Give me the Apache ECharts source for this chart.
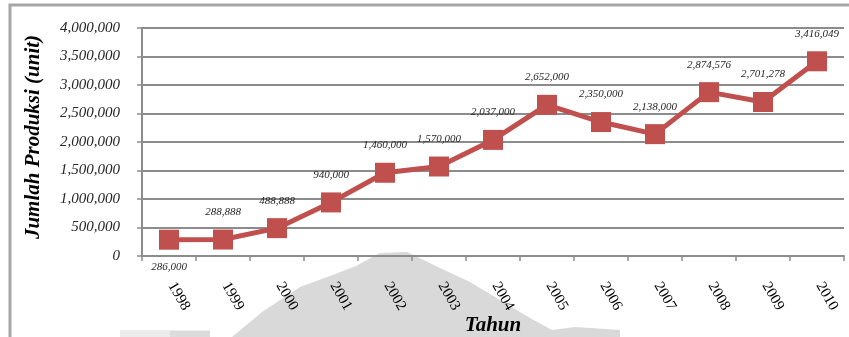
<!DOCTYPE html>
<html>
<head>
<meta charset="utf-8">
<script src="https://cdn.jsdelivr.net/npm/echarts@6/dist/echarts.min.js"></script>
<style>
  html, body { margin: 0; padding: 0; background: #fff; }
  #chart { width: 849px; height: 337px; }
</style>
</head>
<body>
<div id="chart"></div>
<script>
// Production per year (units)
const years = ['1998', '1999', '2000', '2001', '2002', '2003', '2004',
               '2005', '2006', '2007', '2008', '2009', '2010'];
const production = [286000, 288888, 488888, 940000, 1460000, 1570000, 2037000,
                    2652000, 2350000, 2138000, 2874576, 2701278, 3416049];
const yTicks = [0, 500000, 1000000, 1500000, 2000000, 2500000, 3000000, 3500000, 4000000];

const serif = '"Liberation Serif", "Times New Roman", "DejaVu Serif", serif';
const red = '#C0504D';
const grey = '#8c8c8c';

function fmt(v) {
  return v === 0 ? '0' : v.toLocaleString('en-US');
}

const chart = echarts.init(document.getElementById('chart'), null, { renderer: 'canvas' });

chart.setOption({
  animation: false,
  backgroundColor: '#fff',
  graphic: [
    {
      type: 'rect',
      z: -20,
      shape: { x: 10, y: 5, width: 860, height: 360 },
      style: { fill: 'none', stroke: '#a6a6a6', lineWidth: 3 }
    },
    {
      type: 'polygon',
      z: -20,
      shape: {
        points: [[232, 337], [262, 312], [300, 287], [330, 276], [356, 266],
                 [380, 253], [407, 252], [440, 268], [470, 282], [500, 300],
                 [530, 318], [552, 330], [575, 327], [620, 330], [620, 337]]
      },
      style: { fill: '#d9d9d9' }
    },
    {
      type: 'rect',
      z: -20,
      shape: { x: 120, y: 330, width: 90, height: 7 },
      style: { fill: '#ececec' }
    },
    {
      type: 'rect',
      z: -19,
      shape: { x: 170, y: 331, width: 40, height: 6 },
      style: { fill: '#dcdcdc' }
    }
  ],
  grid: { left: 142, right: 5, top: 28, bottom: 81, containLabel: false, outerBoundsMode: 'none' },
  xAxis: {
    type: 'category',
    data: years,
    boundaryGap: true,
    name: 'Tahun',
    nameLocation: 'middle',
    nameGap: 59,
    nameMoveOverlap: false,
    nameTextStyle: { fontFamily: serif, fontSize: 21, fontStyle: 'italic', fontWeight: 'bold', color: '#000' },
    axisLine: { lineStyle: { color: grey, width: 2 } },
    axisTick: { show: true, alignWithLabel: false, length: 5, lineStyle: { color: grey, width: 1.5 } },
    axisLabel: {
      rotate: -60,
      margin: 23,
      padding: [0, 0, 0, 5],
      fontFamily: serif,
      fontSize: 15,
      color: '#000',
      interval: 0
    },
    splitLine: { show: false }
  },
  yAxis: {
    type: 'value',
    min: yTicks[0],
    max: yTicks[yTicks.length - 1],
    interval: yTicks[1] - yTicks[0],
    name: 'Jumlah Produksi (unit)',
    nameLocation: 'middle',
    nameGap: 98,
    nameRotate: 90,
    nameMoveOverlap: false,
    nameTextStyle: { fontFamily: serif, fontSize: 21, fontStyle: 'italic', fontWeight: 'bold', color: '#000', padding: [0, 0, 0, 10] },
    axisLine: { show: true, lineStyle: { color: grey, width: 2 } },
    axisTick: { show: true, length: 5, lineStyle: { color: grey, width: 1.5 } },
    axisLabel: {
      margin: 22,
      fontFamily: serif,
      fontSize: 15,
      fontStyle: 'italic',
      color: '#262626',
      formatter: fmt
    },
    splitLine: { show: true, lineStyle: { color: grey, width: 2 } }
  },
  series: [{
    type: 'line',
    data: production.map((v, i) => ({
      value: v,
      label: { position: i === 0 ? 'bottom' : 'top' }
    })),
    symbol: 'rect',
    symbolSize: 20,
    lineStyle: { color: red, width: 5 },
    itemStyle: { color: red },
    z: 5,
    label: {
      show: true,
      position: 'top',
      distance: 12,
      fontFamily: serif,
      fontSize: 11,
      fontStyle: 'italic',
      color: '#262626',
      formatter: p => fmt(p.value)
    }
  }]
});
</script>
</body>
</html>
